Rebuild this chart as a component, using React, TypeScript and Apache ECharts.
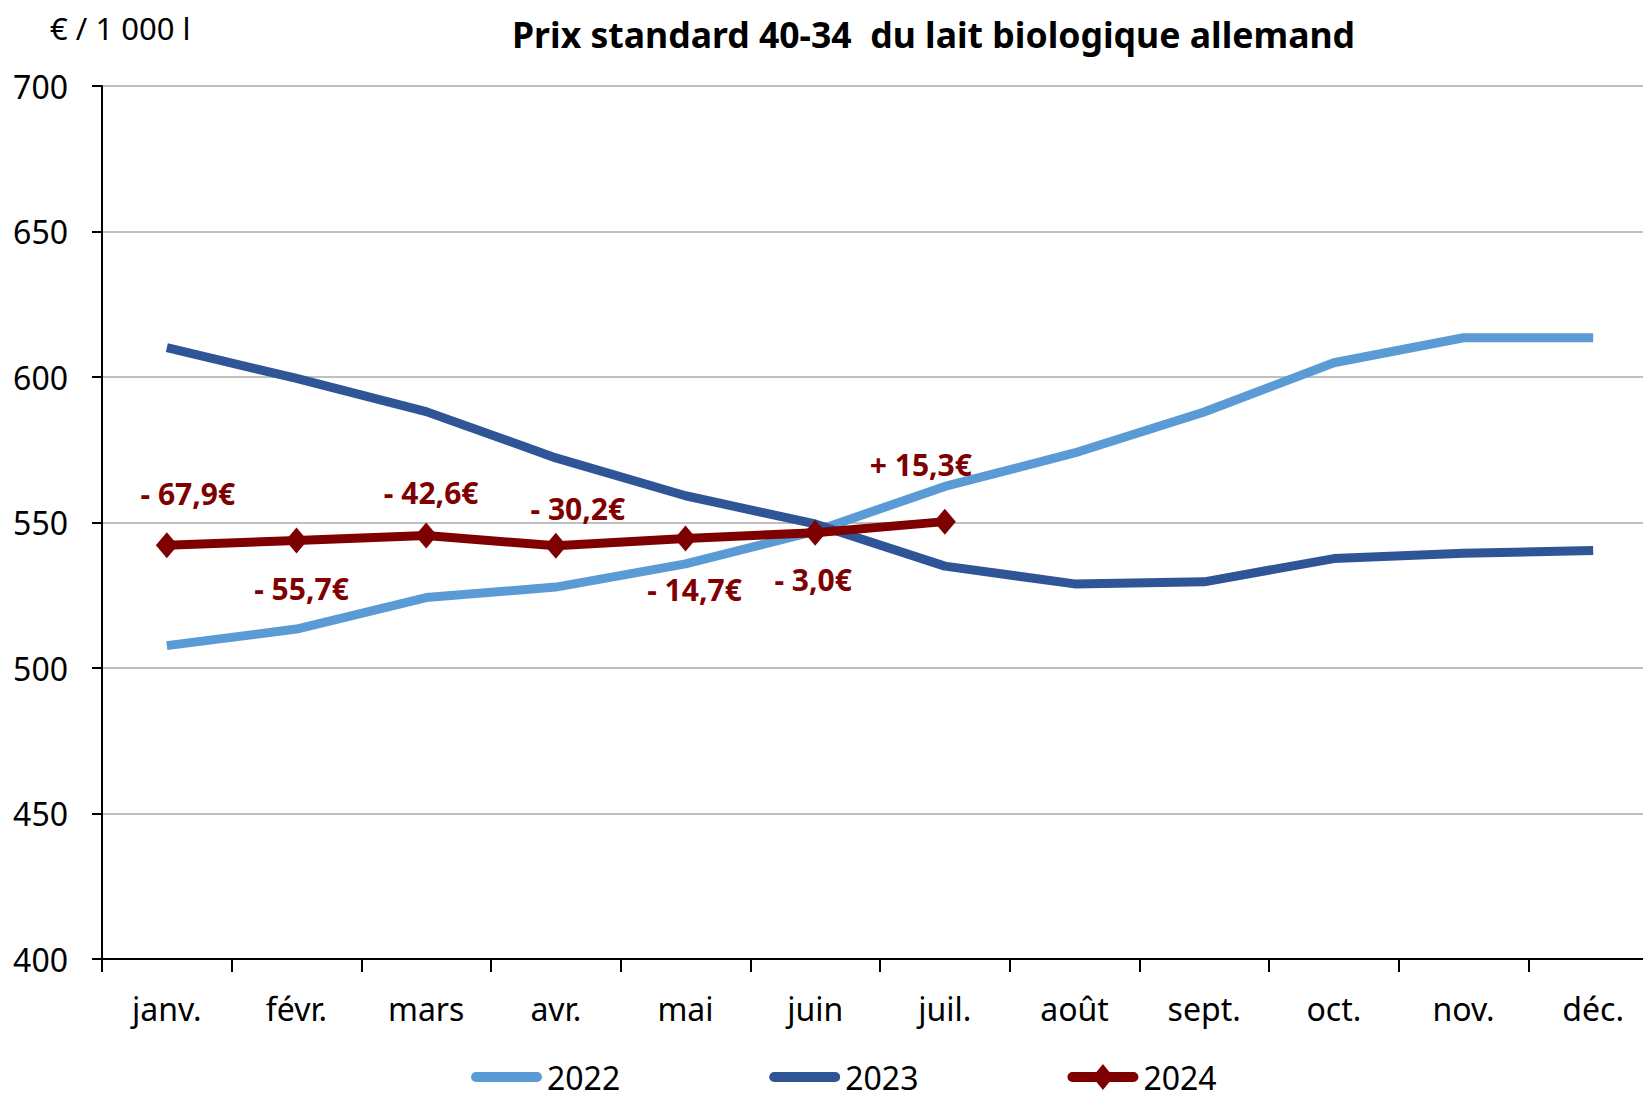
import React, { useEffect, useRef } from "react";
import * as echarts from "echarts";

const months = ["janv.", "févr.", "mars", "avr.", "mai", "juin", "juil.", "août", "sept.", "oct.", "nov.", "déc."];
const v2022 = [507.7, 513.4, 524.2, 527.8, 535.8, 547.0, 562.4, 573.9, 588.0, 604.9, 613.5, 613.5];
const v2023 = [610.1, 599.5, 588.1, 572.2, 559.2, 549.5, 535.0, 528.9, 529.6, 537.6, 539.4, 540.4];
const v2024 = [542.2, 543.8, 545.5, 542.0, 544.5, 546.5, 550.3];
const diffLabels = ["- 67,9€", "- 55,7€", "- 42,6€", "- 30,2€", "- 14,7€", "- 3,0€", "+ 15,3€"];
const yTicks = { min: 400, max: 700, interval: 50 };

const labelOffsets: [number, number][] = [
  [21, -52], [5, 48], [5, -43], [22, -37], [9, 51], [-2, 47], [-24, -57],
];

const FONT = "'Noto Sans', 'Open Sans', sans-serif";

const BAR = "M0 0 M71 26 M5 8 L66 8 A5 5 0 0 1 66 18 L5 18 A5 5 0 0 1 5 8 Z";
const BAR_DIAMOND = BAR + " M35.5 0 L46 13 L35.5 26 L25 13 Z";

export default function App() {
  const ref = useRef<HTMLDivElement>(null);
  useEffect(() => {
    if (!ref.current) return;
    const chart = echarts.init(ref.current, undefined, { renderer: "svg" });
    const red = "#7F0000";
    chart.setOption({
      animation: false,
      textStyle: { fontFamily: FONT },
      title: [
        {
          text: "Prix standard 40-34  du lait biologique allemand",
          left: 507,
          top: 11,
          textStyle: { fontFamily: FONT, fontSize: 35.6, fontWeight: "bold", color: "#000" },
        },
        {
          text: "€ / 1 000 l",
          left: 45,
          top: 7,
          textStyle: { fontFamily: FONT, fontSize: 31, fontWeight: "normal", color: "#000" },
        },
      ],
      legend: {
        left: 466,
        top: 1056,
        itemWidth: 71,
        itemHeight: 26,
        itemGap: 149,
        textStyle: { fontFamily: FONT, fontSize: 32, color: "#000", lineHeight: 26 },
        data: [
          { name: "2022", icon: "path://" + BAR },
          { name: "2023", icon: "path://" + BAR },
          { name: "2024", icon: "path://" + BAR_DIAMOND },
        ],
      },
      grid: { left: 102, right: 22, top: 86, bottom: 141 },
      xAxis: {
        type: "category",
        data: months,
        boundaryGap: true,
        axisLine: { lineStyle: { color: "#000", width: 2 } },
        axisTick: { show: true, length: 13, lineStyle: { color: "#000", width: 2 } },
        axisLabel: { fontFamily: FONT, fontSize: 32, color: "#000", margin: 33 },
      },
      yAxis: {
        type: "value",
        min: yTicks.min,
        max: yTicks.max,
        interval: yTicks.interval,
        axisLine: { show: true, lineStyle: { color: "#000", width: 2 } },
        axisTick: { show: true, length: 10, lineStyle: { color: "#000", width: 2 } },
        axisLabel: { fontFamily: FONT, fontSize: 32, color: "#000", margin: 34 },
        splitLine: { lineStyle: { color: "#BFBFBF", width: 2 } },
      },
      series: [
        {
          name: "2022",
          type: "line",
          data: v2022,
          symbol: "none",
          lineStyle: { color: "#5B9BD5", width: 9 },
          itemStyle: { color: "#5B9BD5" },
        },
        {
          name: "2023",
          type: "line",
          data: v2023,
          symbol: "none",
          lineStyle: { color: "#2F5597", width: 9 },
          itemStyle: { color: "#2F5597" },
        },
        {
          name: "2024",
          type: "line",
          z: 5,
          data: v2024.map((v, i) => ({
            value: v,
            label: {
              show: true,
              position: "inside",
              offset: labelOffsets[i],
              formatter: diffLabels[i],
            },
          })),
          symbol: "diamond",
          symbolSize: [22, 26],
          lineStyle: { color: red, width: 9 },
          itemStyle: { color: red },
          label: {
            fontFamily: FONT,
            fontSize: 30,
            fontWeight: "bold",
            color: red,
          },
        },
      ],
    });
    return () => chart.dispose();
  }, []);
  return (
    <div style={{ position: "absolute", left: 0, top: 0, width: 1643, height: 1100, overflow: "hidden", background: "#fff" }}>
      <div ref={ref} style={{ width: 1680, height: 1100 }} />
    </div>
  );
}
